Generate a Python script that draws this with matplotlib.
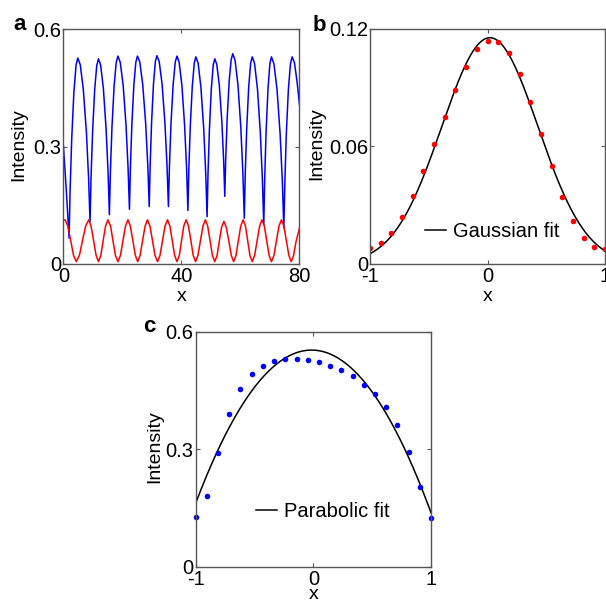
import numpy as np
import matplotlib
matplotlib.use('Agg')
import matplotlib.pyplot as plt

plt.rcParams['font.family'] = ['Liberation Sans', 'DejaVu Sans']
plt.rcParams['axes.unicode_minus'] = False

# panel a: intensity along x (blue / red traces)
blue_x = [0.0, 1.0, 1.95,
          2.30, 2.84, 3.57, 4.31, 4.9, 5.73, 6.77, 7.81, 8.55, 9.05,
          9.39, 9.91, 10.62, 11.33, 11.9, 12.64, 13.57, 14.49, 15.16, 15.6,
          15.95, 16.47, 17.20, 17.92, 18.5, 19.28, 20.26, 21.23, 21.93, 22.4,
          22.72, 23.21, 23.89, 24.56, 25.1, 25.9, 26.9, 27.9, 28.62, 29.1,
          29.41, 29.88, 30.53, 31.18, 31.7, 32.48, 33.46, 34.43, 35.13, 35.6,
          35.95, 36.47, 37.20, 37.92, 38.5, 39.24, 40.17, 41.09, 41.76, 42.2,
          42.52, 43.01, 43.69, 44.36, 44.9, 45.66, 46.61, 47.56, 48.24, 48.7,
          49.01, 49.48, 50.13, 50.78, 51.3, 51.98, 52.83, 53.68, 54.29, 54.7,
          55.02, 55.51, 56.19, 56.86, 57.4, 58.18, 59.16, 60.13, 60.83, 61.3,
          61.62, 62.11, 62.79, 63.46, 64.0, 64.78, 65.76, 66.73, 67.43, 67.9,
          68.21, 68.68, 69.33, 69.98, 70.5, 71.34, 72.39, 73.44, 74.20, 74.7,
          75.04, 75.54, 76.24, 76.94, 77.5, 78.3, 79.2, 80.0]
blue_y = [0.305, 0.19, 0.066,
          0.190, 0.320, 0.439, 0.509, 0.527, 0.510, 0.447, 0.338, 0.221, 0.108,
          0.221, 0.337, 0.446, 0.508, 0.525, 0.509, 0.449, 0.345, 0.234, 0.126,
          0.236, 0.349, 0.455, 0.516, 0.532, 0.516, 0.458, 0.356, 0.246, 0.140,
          0.246, 0.356, 0.458, 0.516, 0.532, 0.517, 0.459, 0.359, 0.251, 0.147,
          0.251, 0.359, 0.460, 0.518, 0.533, 0.518, 0.460, 0.359, 0.251, 0.147,
          0.251, 0.359, 0.459, 0.517, 0.532, 0.516, 0.457, 0.354, 0.244, 0.137,
          0.243, 0.353, 0.455, 0.514, 0.530, 0.514, 0.452, 0.346, 0.231, 0.121,
          0.230, 0.343, 0.448, 0.509, 0.525, 0.511, 0.458, 0.367, 0.268, 0.173,
          0.272, 0.374, 0.469, 0.523, 0.538, 0.521, 0.458, 0.349, 0.231, 0.117,
          0.229, 0.344, 0.452, 0.514, 0.530, 0.513, 0.448, 0.337, 0.216, 0.100,
          0.216, 0.337, 0.448, 0.513, 0.530, 0.512, 0.447, 0.333, 0.210, 0.092,
          0.210, 0.333, 0.447, 0.512, 0.530, 0.515, 0.465, 0.408]

red_x = [0.0, 0.6,
         1.55, 2.5, 3.45, 4.4, 5.45, 6.5, 7.55, 8.6,
         9.4, 10.25, 11.1, 11.9, 12.7, 13.5, 14.3, 15.1,
         16.0, 16.8, 17.65, 18.5, 19.35, 20.2, 21.05, 21.9,
         22.7, 23.55, 24.4, 25.2, 26.0, 26.85, 27.7, 28.5,
         29.35, 30.2, 31.05, 31.9, 32.75, 33.6, 34.45, 35.3,
         36.1, 36.9, 37.7, 38.5, 39.3, 40.05, 40.8, 41.6,
         42.4, 43.2, 44.0, 44.8, 45.6, 46.45, 47.3, 48.1,
         48.9, 49.7, 50.5, 51.3, 52.1, 52.85, 53.6, 54.4,
         55.2, 56.05, 56.9, 57.7, 58.5, 59.3, 60.1, 60.9,
         61.7, 62.45, 63.2, 64.0, 64.8, 65.65, 66.5, 67.3,
         68.1, 68.9, 69.7, 70.5, 71.35, 72.2, 73.05, 73.9,
         74.7, 75.55, 76.4, 77.2, 78.0, 78.85, 80.0]
red_y = [0.112, 0.113,
         0.097, 0.060, 0.022, 0.006, 0.022, 0.060, 0.097, 0.113,
         0.097, 0.060, 0.022, 0.006, 0.022, 0.060, 0.097, 0.113,
         0.097, 0.060, 0.022, 0.006, 0.022, 0.060, 0.097, 0.113,
         0.097, 0.060, 0.022, 0.006, 0.022, 0.060, 0.097, 0.113,
         0.097, 0.060, 0.022, 0.006, 0.022, 0.060, 0.097, 0.113,
         0.097, 0.060, 0.022, 0.006, 0.022, 0.060, 0.097, 0.113,
         0.097, 0.060, 0.022, 0.006, 0.022, 0.060, 0.097, 0.113,
         0.097, 0.060, 0.022, 0.006, 0.022, 0.059, 0.094, 0.109,
         0.094, 0.059, 0.022, 0.006, 0.022, 0.060, 0.097, 0.113,
         0.097, 0.060, 0.022, 0.006, 0.022, 0.060, 0.097, 0.113,
         0.097, 0.060, 0.022, 0.006, 0.022, 0.060, 0.097, 0.113,
         0.097, 0.060, 0.022, 0.006, 0.022, 0.058, 0.092]

# panel b: profile points + gaussian fit parameters
b_x = np.linspace(-1, 1, 23)
b_y = [0.0082, 0.0106, 0.0160, 0.0240, 0.0347, 0.0475, 0.0612, 0.0750,
       0.0890, 0.1008, 0.1095, 0.1138, 0.1135, 0.1077, 0.0972, 0.0828,
       0.0666, 0.0501, 0.0342, 0.0218, 0.0131, 0.0085, 0.0076]
gauss_amp, gauss_mu, gauss_sigma = 0.1155, 0.02, 0.41

# panel c: profile points + parabolic fit coefficients (c2, c1, c0)
c_x = np.linspace(-1, 1, 22)
c_y = [0.128, 0.181, 0.290, 0.389, 0.454, 0.491, 0.513, 0.524, 0.530, 0.530,
       0.528, 0.522, 0.513, 0.501, 0.486, 0.465, 0.442, 0.407, 0.362, 0.294,
       0.204, 0.124]
parab = [-0.403, -0.012, 0.553]

FS = 14.5


def style(ax):
    ax.tick_params(direction='in', length=3, width=0.8, top=True, right=True,
                   color='#555555', labelcolor='black', labelsize=FS)
    ax.tick_params(axis='x', pad=2.5)
    ax.tick_params(axis='y', pad=1.5)
    for s in ax.spines.values():
        s.set_color('#555555')
        s.set_linewidth(1.0)


def labels(ax, ylab_x, xlab_y):
    ax.set_ylabel('Intensity', fontsize=14)
    ax.yaxis.set_label_coords(ylab_x, 0.51)
    ax.set_xlabel('x', fontsize=14)
    ax.xaxis.set_label_coords(0.5, xlab_y)
    ax.xaxis.label.set_verticalalignment('baseline')


fig = plt.figure(figsize=(6.06, 6.02), dpi=100)

# a
ax = fig.add_axes([0.1045, 0.5615, 0.3897, 0.3895])
ax.plot(blue_x, blue_y, color='#0000ff', lw=1.1)
ax.plot(red_x, red_y, color='#ff0000', lw=1.1)
ax.set_xlim(0, 80)
ax.set_ylim(0, 0.6)
ax.set_xticks([0, 40, 80], ['0', '40', '80'])
ax.set_yticks([0, 0.3, 0.6], ['0', '0.3', '0.6'])
style(ax)
labels(ax, -0.154, -0.158)

# b
ax = fig.add_axes([0.6106, 0.5615, 0.3878, 0.3905])
xs = np.linspace(-1, 1, 300)
ax.plot(xs, gauss_amp * np.exp(-(xs - gauss_mu) ** 2 / (2 * gauss_sigma ** 2)),
        color='black', lw=1.1, label='Gaussian fit')
ax.plot(b_x, b_y, 'o', color='#ff0000', ms=4, mec='none')
ax.set_xlim(-1, 1)
ax.set_ylim(0, 0.12)
ax.set_xticks([-1, 0, 1], ['-1', '0', '1'])
ax.set_yticks([0, 0.06, 0.12], ['0', '0.06', '0.12'])
style(ax)
labels(ax, -0.191, -0.158)
ax.legend(loc='center left', bbox_to_anchor=(0.234, 0.14), frameon=False,
          fontsize=FS, handlelength=1.05, handletextpad=0.35,
          borderpad=0, borderaxespad=0)

# c
ax = fig.add_axes([0.3229, 0.0586, 0.3883, 0.3904])
ax.plot(xs, np.polyval(parab, xs), color='black', lw=1.1, label='Parabolic fit')
ax.plot(c_x, c_y, 'o', color='#0000ff', ms=4, mec='none', clip_on=False)
ax.set_xlim(-1, 1)
ax.set_ylim(0, 0.6)
ax.set_xticks([-1, 0, 1], ['-1', '0', '1'])
ax.set_yticks([0, 0.3, 0.6], ['0', '0.3', '0.6'])
style(ax)
labels(ax, -0.138, -0.138)
ax.legend(loc='center left', bbox_to_anchor=(0.256, 0.234), frameon=False,
          fontsize=FS, handlelength=1.05, handletextpad=0.35,
          borderpad=0, borderaxespad=0)

fig.text(0.0215, 0.950, 'a', fontsize=16, weight='bold')
fig.text(0.5165, 0.9485, 'b', fontsize=16, weight='bold')
fig.text(0.236, 0.4485, 'c', fontsize=16, weight='bold')

fig.savefig('out.png', dpi=100)
